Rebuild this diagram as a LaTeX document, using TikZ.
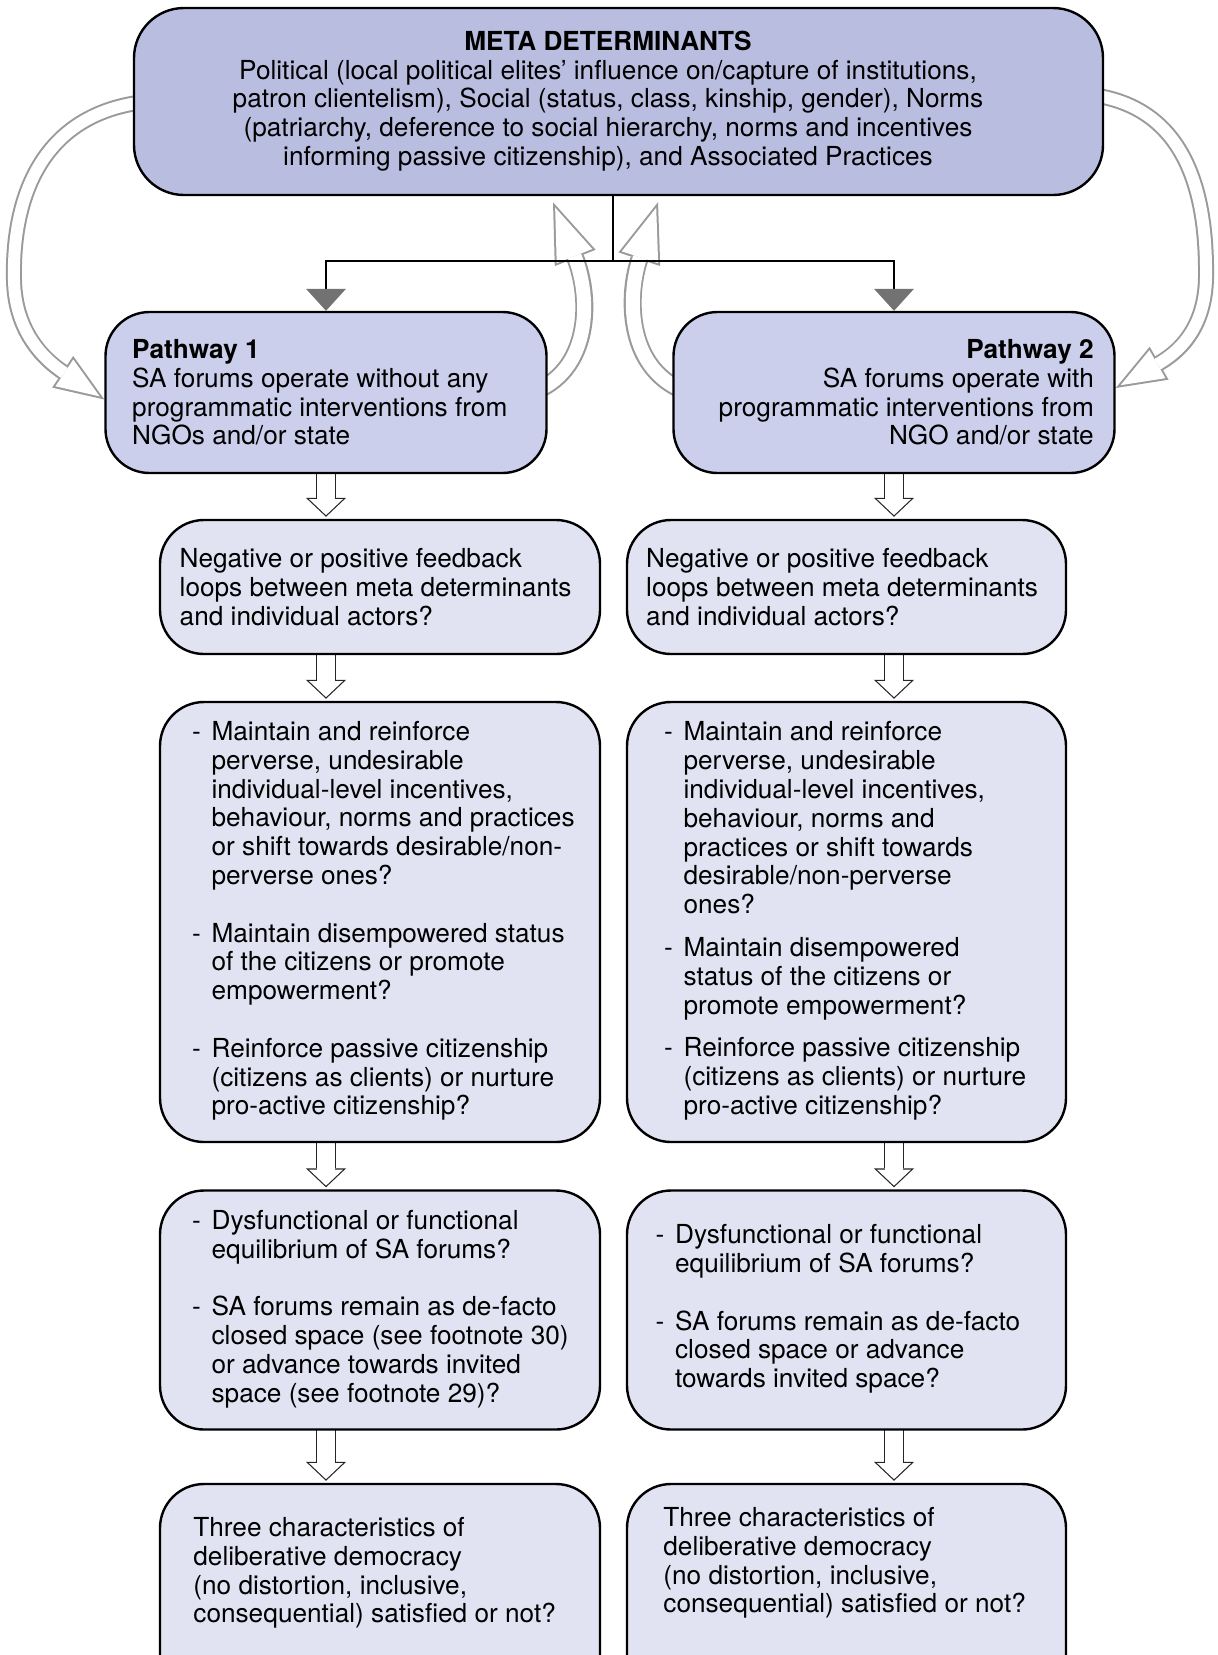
\documentclass[tikz,border=0pt]{standalone}
\usepackage{fontspec}
\setmainfont{TeX Gyre Heros}
\usetikzlibrary{arrows.meta,backgrounds}
\definecolor{metafill}{HTML}{B9BEE0}
\definecolor{pathfill}{HTML}{CBCFEB}
\definecolor{boxfill}{HTML}{E1E3F2}
\definecolor{fbgray}{HTML}{9A9A9A}
\definecolor{trigray}{HTML}{727272}
\newcommand{\dsh}{\makebox[9.7pt][l]{-}}
\tikzset{
  rbox/.style={draw=black, line width=1.2pt, rounded corners=22pt, inner sep=0pt},
  txt/.style={inner sep=0pt, font=\fontsize{13.1pt}{14.4pt}\selectfont},
  fbout/.style={line width=8pt, draw=fbgray, -{Triangle[length=25pt,width=19pt,line width=0pt,color=fbgray]}},
  fbin/.style={line width=6pt, draw=white, shorten >=2.82pt, -{Triangle[length=21.18pt,width=16.1pt,line width=0pt,color=white]}},
  fcout/.style={line width=9pt, draw=fbgray, -{Triangle[length=30pt,width=22pt,line width=0pt,color=fbgray]}},
  fcin/.style={line width=7pt, draw=white, shorten >=2.9pt, -{Triangle[length=26.1pt,width=19.14pt,line width=0pt,color=white]}},
  dnout/.style={line width=10.1pt, draw=black!85, shorten >=1pt, -{Triangle[length=9.5pt,width=20.1pt,line width=0pt,color=black!85]}},
  dnin/.style={line width=8.9pt, draw=white, shorten >=1.83pt, -{Triangle[length=8.07pt,width=17.07pt,line width=0pt,color=white]}},
  splitline/.style={draw=black, line width=1.2pt, -{Triangle[length=11pt,width=20pt,line width=0pt,color=trigray]}},
}
\begin{document}
\begin{tikzpicture}[x=0.5pt,y=-0.5pt]
\useasboundingbox (0,0) rectangle (1217,1655);

% boxes
\node[rbox, fill=metafill, rounded corners=25pt, minimum width=484.5pt, minimum height=93.5pt] (meta) at (618.5,101.5) {};
\node[rbox, fill=pathfill, minimum width=220.5pt, minimum height=80.5pt] (p1) at (326,392.5) {};
\node[rbox, fill=pathfill, minimum width=220.5pt, minimum height=80.5pt] (p2) at (894,392.5) {};
\node[rbox, fill=boxfill, minimum width=220pt, minimum height=67pt] (r2l) at (380,587) {};
\node[rbox, fill=boxfill, minimum width=219.5pt, minimum height=67pt] (r2r) at (846.5,587) {};
\node[rbox, fill=boxfill, minimum width=220pt, minimum height=220pt] (r3l) at (380,922) {};
\node[rbox, fill=boxfill, minimum width=219.5pt, minimum height=220pt] (r3r) at (846.5,922) {};
\node[rbox, fill=boxfill, minimum width=220pt, minimum height=119.5pt] (r4l) at (380,1310) {};
\node[rbox, fill=boxfill, minimum width=219.5pt, minimum height=119.5pt] (r4r) at (846.5,1310) {};
\node[rbox, fill=boxfill, minimum width=220pt, minimum height=108pt] (r5l) at (380,1592) {};
\node[rbox, fill=boxfill, minimum width=219.5pt, minimum height=108pt] (r5r) at (846.5,1592) {};

% texts
\node[txt, align=center] (metatxt) at (608,101) {\textbf{META DETERMINANTS}\\
Political (local political elites’ influence on/capture of institutions,\\
patron clientelism), Social (status, class, kinship, gender), Norms\\
(patriarchy, deference to social hierarchy, norms and incentives\\
informing passive citizenship), and Associated Practices};

\node[txt, align=left, anchor=west] (p1txt) at ([xshift=13.75pt]p1.west) {\textbf{Pathway 1}\\
SA forums operate without any\\
programmatic interventions from\\
NGOs and/or state};

\node[txt, align=right, anchor=east] (p2txt) at ([xshift=-10.75pt]p2.east) {\textbf{Pathway 2}\\
SA forums operate with\\
programmatic interventions from\\
NGO and/or state};

\node[txt, align=left, anchor=west] (r2ltxt) at ([xshift=10.25pt]r2l.west) {Negative or positive feedback\\
loops between meta determinants\\
and individual actors?};
\node[txt, align=left, anchor=west] (r2rtxt) at ([xshift=10pt]r2r.west) {Negative or positive feedback\\
loops between meta determinants\\
and individual actors?};

\node[txt, anchor=west] (r3ltxt) at ([xshift=16.5pt]r3l.west) {\begin{tabular}{@{}l@{}l@{}}
\dsh&Maintain and reinforce\\
&perverse, undesirable\\
&individual-level incentives,\\
&behaviour, norms and practices\\
&or shift towards desirable/non-\\
&perverse ones?\\[14.4pt]
\dsh&Maintain disempowered status\\
&of the citizens or promote\\
&empowerment?\\[14.4pt]
\dsh&Reinforce passive citizenship\\
&(citizens as clients) or nurture\\
&pro-active citizenship?
\end{tabular}};

\node[txt, anchor=west] (r3rtxt) at ([xshift=19pt]r3r.west) {\begin{tabular}{@{}l@{}l@{}}
\dsh&Maintain and reinforce\\
&perverse, undesirable\\
&individual-level incentives,\\
&behaviour, norms and\\
&practices or shift towards\\
&desirable/non-perverse\\
&ones?\\[7pt]
\dsh&Maintain disempowered\\
&status of the citizens or\\
&promote empowerment?\\[7pt]
\dsh&Reinforce passive citizenship\\
&(citizens as clients) or nurture\\
&pro-active citizenship?
\end{tabular}};

\node[txt, anchor=west] (r4ltxt) at ([xshift=16.5pt]r4l.west) {\begin{tabular}{@{}l@{}l@{}}
\dsh&Dysfunctional or functional\\
&equilibrium of SA forums?\\[14.4pt]
\dsh&SA forums remain as de-facto\\
&closed space (see footnote 30)\\
&or advance towards invited\\
&space (see footnote 29)?
\end{tabular}};

\node[txt, anchor=west] (r4rtxt) at ([xshift=14.75pt]r4r.west) {\begin{tabular}{@{}l@{}l@{}}
\dsh&Dysfunctional or functional\\
&equilibrium of SA forums?\\[14.4pt]
\dsh&SA forums remain as de-facto\\
&closed space or advance\\
&towards invited space?
\end{tabular}};

\node[txt, align=left, anchor=west] (r5ltxt) at (193,1573) {Three characteristics of\\
deliberative democracy\\
(no distortion, inclusive,\\
consequential) satisfied or not?};
\node[txt, align=left, anchor=west] (r5rtxt) at (663,1563) {Three characteristics of\\
deliberative democracy\\
(no distortion, inclusive,\\
consequential) satisfied or not?};

% feedback and flow arrows (behind the boxes)
\begin{scope}[on background layer]
  \draw[fbout] ([xshift=8pt]meta.west) .. controls (40,112) and (12,200) .. (14,280) .. controls (15,335) and (48,362) .. ([yshift=-3.5pt]p1.west);
  \draw[fbin] ([xshift=8pt]meta.west) .. controls (40,112) and (12,200) .. (14,280) .. controls (15,335) and (48,362) .. ([yshift=-3.5pt]p1.west);
  \draw[fbout] ([xshift=-8pt,yshift=3.5pt]meta.east) .. controls (1190,106) and (1207,200) .. (1206,278) .. controls (1205,330) and (1177,353) .. ([yshift=2.25pt]p2.east);
  \draw[fbin] ([xshift=-8pt,yshift=3.5pt]meta.east) .. controls (1190,106) and (1207,200) .. (1206,278) .. controls (1205,330) and (1177,353) .. ([yshift=2.25pt]p2.east);
  \draw[fcout] ([xshift=-8pt]p1.east) .. controls (590,372) and (592,300) .. ([xshift=-32.75pt,yshift=-3pt]meta.south);
  \draw[fcin] ([xshift=-8pt]p1.east) .. controls (590,372) and (592,300) .. ([xshift=-32.75pt,yshift=-3pt]meta.south);
  \draw[fcout] ([xshift=8pt]p2.west) .. controls (628,372) and (626,300) .. ([xshift=19.75pt,yshift=-3pt]meta.south);
  \draw[fcin] ([xshift=8pt]p2.west) .. controls (628,372) and (626,300) .. ([xshift=19.75pt,yshift=-3pt]meta.south);

  \foreach \a/\b/\c in {p1/p1/r2l, r2l/p1/r3l, r3l/p1/r4l, r4l/p1/r5l, p2/p2/r2r, r2r/p2/r3r, r3r/p2/r4r, r4r/p2/r5r}{
    \draw[dnout] ([yshift=4pt]\b.south |- \a.south) -- (\b.south |- \c.north);
    \draw[dnin] ([yshift=4pt]\b.south |- \a.south) -- (\b.south |- \c.north);
  }
\end{scope}

% split connector
\coordinate (sp) at (613,261);
\draw[splitline] (sp |- meta.south) -- (sp) -| (p1.north);
\draw[splitline] (sp) -| (p2.north);
\end{tikzpicture}
\end{document}
